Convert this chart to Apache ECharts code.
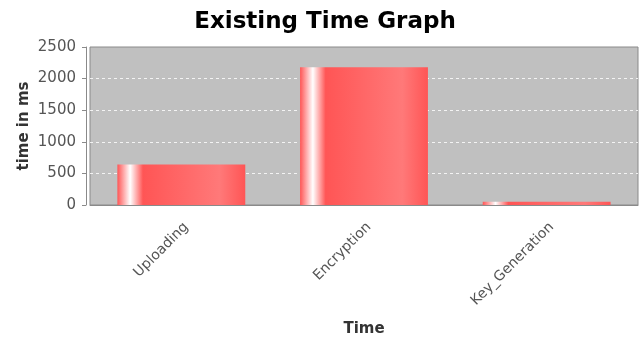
<!DOCTYPE html>
<html>
<head>
<meta charset="utf-8">
<script src="https://cdn.jsdelivr.net/npm/echarts@6/dist/echarts.min.js"></script>
<style>
  html, body { margin: 0; padding: 0; background: #fff; }
  #chart { width: 641px; height: 342px; }
</style>
</head>
<body>
<div id="chart"></div>
<script>
// Task durations in milliseconds
const categories = ['Uploading', 'Encryption', 'Key_Generation'];
const timeMs = [642, 2180, 53];
const yTicks = { min: 0, max: 2500, interval: 500 };

const barColor = '#ff5555';
const barGradient = new echarts.graphic.LinearGradient(0, 0, 1, 0, [
  { offset: 0, color: barColor },
  { offset: 0.1, color: '#ffffff' },
  { offset: 0.2, color: barColor },
  { offset: 0.8, color: '#ff7979' },
  { offset: 1, color: barColor }
]);

const chart = echarts.init(document.getElementById('chart'), null, { renderer: 'canvas' });
chart.setOption({
  animation: false,
  backgroundColor: '#ffffff',
  title: {
    text: 'Existing Time Graph',
    left: 320,
    textAlign: 'center',
    top: 6,
    textStyle: { fontFamily: 'DejaVu Sans', fontWeight: 'bold', fontSize: 23, color: '#000' }
  },
  grid: {
    left: 90, right: 3, top: 47, bottom: 137,
    show: true,
    backgroundColor: '#c0c0c0',
    borderColor: '#8a8a8a',
    borderWidth: 1
  },
  xAxis: {
    type: 'category',
    data: categories,
    offset: 5,
    name: 'Time',
    nameLocation: 'middle',
    nameGap: 112,
    nameMoveOverlap: false,
    nameTextStyle: { fontFamily: 'DejaVu Sans', fontWeight: 'bold', fontSize: 15, color: '#333' },
    axisLine: { lineStyle: { color: '#8a8a8a', width: 1 } },
    axisTick: { alignWithLabel: true, length: 3, lineStyle: { color: '#8a8a8a' } },
    axisLabel: {
      rotate: 45, margin: 10, verticalAlign: 'top',
      fontFamily: 'DejaVu Sans', fontSize: 14, color: '#555'
    },
    splitLine: { show: false }
  },
  yAxis: {
    type: 'value',
    min: yTicks.min,
    max: yTicks.max,
    interval: yTicks.interval,
    offset: 4,
    name: 'time in ms',
    nameLocation: 'middle',
    nameRotate: 90,
    nameGap: 54,
    nameMoveOverlap: false,
    nameTextStyle: { fontFamily: 'DejaVu Sans', fontWeight: 'bold', fontSize: 15, color: '#333' },
    axisLine: { show: true, lineStyle: { color: '#8a8a8a', width: 1 } },
    axisTick: { show: true, length: 4, lineStyle: { color: '#8a8a8a' } },
    axisLabel: {
      margin: 10, fontFamily: 'DejaVu Sans', fontSize: 15, color: '#555',
      formatter: (v) => String(v)
    },
    splitLine: {
      show: true,
      showMinLine: false,
      showMaxLine: false,
      lineStyle: { color: '#ffffff', type: [3, 3], width: 1, opacity: 0.8 }
    }
  },
  series: [{
    type: 'bar',
    data: timeMs,
    barWidth: '70%',
    itemStyle: { color: barGradient }
  }]
});
</script>
</body>
</html>
